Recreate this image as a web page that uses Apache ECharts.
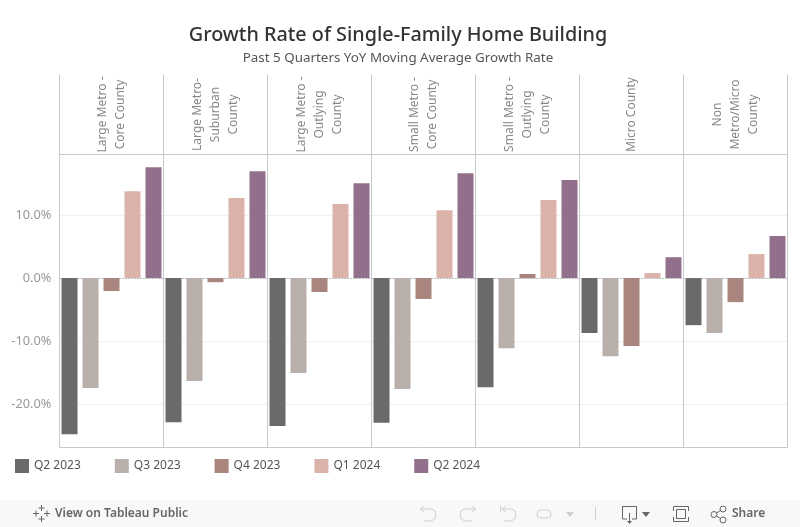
<!DOCTYPE html>
<html lang="en">
<head>
<meta charset="UTF-8">
<title>Growth Rate of Single-Family Home Building</title>
<script src="https://cdn.jsdelivr.net/npm/echarts@6/dist/echarts.min.js"></script>
<style>
  html, body { margin: 0; padding: 0; background: #fff; }
  #main { width: 800px; height: 527px; }
</style>
</head>
<body>
<div id="main"></div>
<script type="text/javascript">
var categories = [
    'Large Metro -\nCore County',
    'Large Metro-\nSuburban\nCounty',
    'Large Metro -\nOutlying\nCounty',
    'Small Metro -\nCore County',
    'Small Metro -\nOutlying\nCounty',
    'Micro County',
    'Non\nMetro/Micro\nCounty'
];
var q2_2023 = [-24.7, -22.8, -23.4, -22.9, -17.25, -8.7, -7.45];
var q3_2023 = [-17.4, -16.3, -15.0, -17.55, -11.1, -12.35, -8.7];
var q4_2023 = [-2.05, -0.65, -2.2, -3.3, 0.65, -10.75, -3.8];
var q1_2024 = [13.75, 12.65, 11.7, 10.75, 12.35, 0.8, 3.8];
var q2_2024 = [17.55, 16.9, 15.0, 16.6, 15.5, 3.3, 6.65];
var seriesNames = ['Q2 2023', 'Q3 2023', 'Q4 2023', 'Q1 2024', 'Q2 2024'];
var seriesColors = ['#6a6a6a', '#b9b0ac', '#a9857d', '#dbb3aa', '#926f8b'];
var yTicks = [-20, -10, 0, 10];

var fontName = 'Noto Sans';
var lineColor = '#c9c9c9';

var seriesValues = [q2_2023, q3_2023, q4_2023, q1_2024, q2_2024];
var seriesList = seriesValues.map(function (values, i) {
    return {
        name: seriesNames[i],
        type: 'bar',
        xAxisIndex: 0,
        barWidth: 16,
        barGap: '31.25%',
        itemStyle: { color: seriesColors[i] },
        data: values
    };
});

// toolbar strip at the bottom of the embed
function stroke(color) {
    return { stroke: color, fill: null, lineWidth: 1 };
}
function poly(points, color) {
    return { type: 'polyline', shape: { points: points }, style: stroke(color) };
}
var off = '#cfcfcf';
var on = '#666666';
var toolbar = [
    { type: 'rect', shape: { x: 0, y: 500, width: 800, height: 27 }, style: { fill: '#f8f8f8' } },
    { type: 'text', style: { x: 55, y: 514, text: 'View on Tableau Public', fill: '#666', font: '600 12px ' + fontName, verticalAlign: 'middle' } },
    { type: 'text', style: { x: 732, y: 514, text: 'Share', fill: '#666', font: '600 12px ' + fontName, verticalAlign: 'middle' } },
    // tableau mark
    poly([[41.5, 505], [41.5, 511]], on), poly([[38.5, 508], [44.5, 508]], on),
    poly([[41.5, 516], [41.5, 522]], on), poly([[38.5, 519], [44.5, 519]], on),
    poly([[33, 513.5], [39, 513.5]], on), poly([[36, 510.5], [36, 516.5]], on),
    poly([[44, 513.5], [50, 513.5]], on), poly([[47, 510.5], [47, 516.5]], on),
    // undo, redo, revert, refresh
    poly([[424, 506], [420.5, 509], [424, 512]], off),
    poly([[420.5, 509], [431, 509], [435, 511], [436, 515], [435, 519], [431, 521], [424, 521]], off),
    poly([[472, 506], [475.5, 509], [472, 512]], off),
    poly([[475.5, 509], [465, 509], [461, 511], [460, 515], [461, 519], [465, 521], [472, 521]], off),
    poly([[500.5, 506], [500.5, 512]], off),
    poly([[506, 506], [502, 509], [506, 512]], off),
    poly([[502, 509], [511, 509], [515, 511], [516, 515], [515, 519], [511, 521], [504, 521]], off),
    { type: 'rect', shape: { x: 537, y: 510, width: 14, height: 8, r: 4 }, style: stroke(off) },
    { type: 'polygon', shape: { points: [[566, 512], [574, 512], [570, 517]] }, style: { fill: off } },
    poly([[595.5, 507], [595.5, 520]], off),
    // download, fullscreen, share
    poly([[627, 519], [622.5, 519], [622.5, 506.5], [636.5, 506.5], [636.5, 519], [632, 519]], on),
    poly([[629.5, 513], [629.5, 521]], on),
    { type: 'polygon', shape: { points: [[627, 521], [632, 521], [629.5, 524]] }, style: { fill: on } },
    { type: 'polygon', shape: { points: [[642, 512], [650, 512], [646, 517]] }, style: { fill: on } },
    { type: 'rect', shape: { x: 676.5, y: 509.5, width: 9, height: 9 }, style: stroke(on) },
    poly([[673.5, 511], [673.5, 506.5], [688.5, 506.5], [688.5, 511]], on),
    poly([[673.5, 517], [673.5, 521.5], [688.5, 521.5], [688.5, 517]], on),
    { type: 'circle', shape: { cx: 714, cy: 514.5, r: 3 }, style: stroke(on) },
    { type: 'circle', shape: { cx: 723, cy: 509, r: 3 }, style: stroke(on) },
    { type: 'circle', shape: { cx: 723, cy: 520, r: 3 }, style: stroke(on) },
    poly([[716.5, 513], [720.5, 510.5]], on),
    poly([[716.5, 516], [720.5, 518.5]], on)
];

var myChart = echarts.init(document.getElementById('main'));

var option = {
    animation: false,
    backgroundColor: '#fff',
    textStyle: { fontFamily: fontName },
    title: {
        text: 'Growth Rate of Single-Family Home Building',
        subtext: 'Past 5 Quarters YoY Moving Average Growth Rate',
        left: 398,
        top: 25,
        padding: 0,
        textAlign: 'center',
        itemGap: 7,
        textStyle: { fontFamily: fontName, fontSize: 19.8, fontWeight: 500, color: '#333' },
        subtextStyle: { fontFamily: fontName, fontSize: 13.4, color: '#555' }
    },
    legend: {
        data: seriesNames,
        left: 15,
        top: 459,
        padding: 0,
        icon: 'rect',
        itemWidth: 14,
        itemHeight: 14,
        itemGap: 34,
        selectedMode: false,
        textStyle: { fontFamily: fontName, fontSize: 12, color: '#555' }
    },
    grid: {
        show: true,
        left: 59.5,
        top: 154.5,
        width: 728,
        height: 293,
        borderColor: lineColor,
        borderWidth: 1
    },
    xAxis: [
        {
            type: 'category',
            position: 'top',
            data: categories,
            axisLine: { onZero: false, lineStyle: { color: lineColor } },
            axisTick: { show: true, length: 80, lineStyle: { color: lineColor } },
            splitLine: { show: true, lineStyle: { color: lineColor } },
            axisLabel: {
                interval: 0,
                rotate: -90,
                margin: 40,
                align: 'center',
                verticalAlign: 'middle',
                lineHeight: 18,
                fontFamily: fontName,
                fontSize: 12,
                color: '#888'
            }
        },
        {
            // dotted zero line
            type: 'category',
            position: 'bottom',
            data: categories,
            axisLine: { onZero: true, lineStyle: { color: '#bbb', type: [1, 2] } },
            axisTick: { show: false },
            axisLabel: { show: false }
        }
    ],
    yAxis: {
        type: 'value',
        min: -26.8,
        max: 19.55,
        axisLine: { show: false },
        axisTick: { show: false, customValues: yTicks },
        splitLine: { show: true, lineStyle: { color: '#f0f0f0' } },
        axisLabel: {
            customValues: yTicks,
            margin: 8,
            fontFamily: fontName,
            fontSize: 12.8,
            color: '#999',
            formatter: function (v) { return v.toFixed(1) + '%'; }
        }
    },
    graphic: toolbar,
    series: seriesList
};

myChart.setOption(option);
</script>
</body>
</html>
